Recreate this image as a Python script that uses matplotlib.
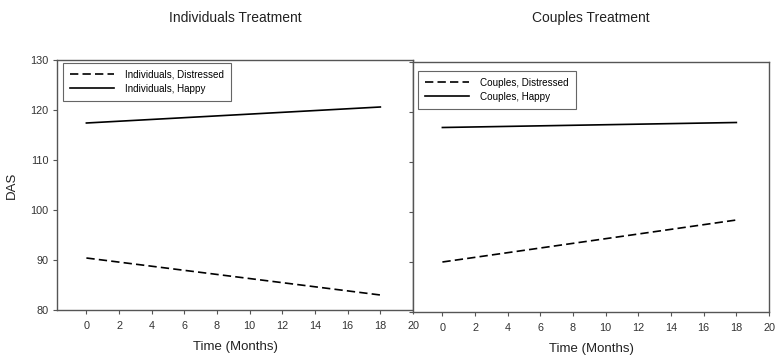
import matplotlib
matplotlib.use("Agg")
import matplotlib.pyplot as plt

plt.rcParams['font.family'] = ['Liberation Sans', 'DejaVu Sans']

# Data
months = [0, 18]
ind_distressed = [90.4, 83.0]
ind_happy = [117.4, 120.6]
cpl_distressed = [90.0, 98.4]
cpl_happy = [116.9, 117.9]

x_ticks = list(range(0, 21, 2))
y_ticks = [80, 90, 100, 110, 120, 130]

fig = plt.figure(figsize=(7.78, 3.62), dpi=100)
ax1 = fig.add_axes([57 / 778, 1 - 310 / 362, 356 / 778, 250 / 362])
ax2 = fig.add_axes([413 / 778, 1 - 312 / 362, 356 / 778, 250 / 362])

spine_col = '#555555'


def style(ax, show_ylabels):
    ax.set_xlim(-1.8, 20)
    ax.set_ylim(80, 130)
    ax.set_xticks(x_ticks)
    ax.set_yticks(y_ticks)
    for s in ax.spines.values():
        s.set_color(spine_col)
        s.set_linewidth(1.0)
    ax.tick_params(direction='out', length=3, width=0.8, color=spine_col,
                   labelsize=7.8, labelcolor='#333333', pad=3)
    ax.tick_params(axis='x', pad=5)
    if not show_ylabels:
        ax.set_yticklabels([])
    ax.set_xlabel('Time (Months)', fontsize=9.5, color='#222222', labelpad=7)


def add_legend(ax, anchor):
    leg = ax.legend(loc='upper left', bbox_to_anchor=anchor, fontsize=7.1,
                    handlelength=4.5, handletextpad=1.1, borderpad=0.7,
                    labelspacing=0.4, fancybox=False, framealpha=1,
                    edgecolor='#666666', borderaxespad=0)
    leg.get_frame().set_linewidth(0.8)


ax1.plot(months, ind_distressed, color='black', lw=1.2, dashes=(5, 2.5),
         label='Individuals, Distressed')
ax1.plot(months, ind_happy, color='black', lw=1.2, label='Individuals, Happy')
style(ax1, True)
ax1.set_ylabel('DAS', fontsize=9.5, color='#222222', labelpad=9)
add_legend(ax1, (0.016, 0.988))

ax2.plot(months, cpl_distressed, color='black', lw=1.2, dashes=(5, 2.5),
         label='Couples, Distressed')
ax2.plot(months, cpl_happy, color='black', lw=1.2, label='Couples, Happy')
style(ax2, False)
add_legend(ax2, (0.014, 0.964))

fig.text(235 / 778, 1 - 18 / 362, 'Individuals Treatment', ha='center',
         va='center', fontsize=10, color='#222222')
fig.text(591 / 778, 1 - 18 / 362, 'Couples Treatment', ha='center',
         va='center', fontsize=10, color='#222222')

fig.savefig('out.png', dpi=100)
